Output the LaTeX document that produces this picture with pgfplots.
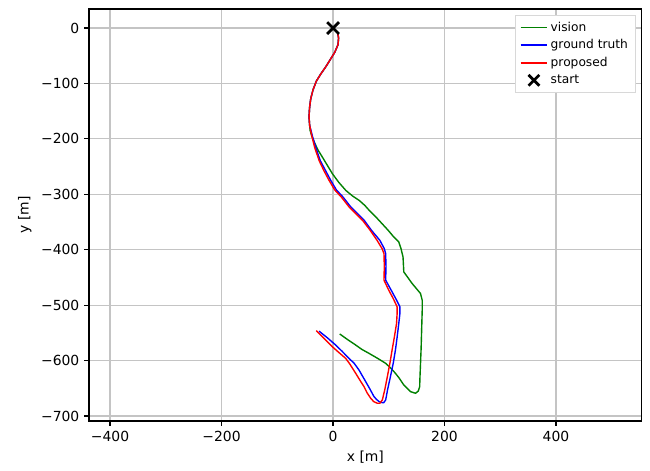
\documentclass[border=0pt]{standalone}
\usepackage{fontspec}
\setmainfont{DejaVu Sans}
\usepackage{pgfplots}
\pgfplotsset{compat=1.18}
\definecolor{gridgray}{HTML}{C4C4C4}
\definecolor{legendgray}{HTML}{D8D8D8}
\pgfplotsset{
 lineleg/.style={legend image code/.code={\draw[##1] (0pt,0pt) -- (19pt,0pt);}},
 startleg/.style={legend image code/.code={\draw[##1] plot[only marks,mark=x,mark size=5.5pt] coordinates {(9.5pt,0pt)};}},
}

\begin{document}
\begin{tikzpicture}
\path[use as bounding box] (-64.1pt,-35.3pt) rectangle (403.9pt,303.1pt);
\begin{axis}[scale only axis,width=398pt,height=296.6pt,at={(0,0)},anchor=south west,
 xmin=-437.7,xmax=554,ymin=-709,ymax=34.3,
 xtick={-400,-200,0,200,400},ytick={-700,-600,-500,-400,-300,-200,-100,0},
 xticklabels={−400,−200,0,200,400},
 yticklabels={−700,−600,−500,−400,−300,−200,−100,0},
 tick pos=left,tick align=outside,major tick length=3.5pt,
 every tick/.style={black,line width=0.8pt},
 axis line style={black,line width=0.8pt},
 grid=major,grid style={gridgray,line width=0.8pt},
 tick label style={font=\fontsize{10}{12}\selectfont},
 label style={font=\fontsize{10}{12}\selectfont},
 xlabel={x [m]},ylabel={y [m]},
 legend style={at={(0.988,0.985)},anchor=north east,draw=legendgray,
  fill=white,font=\fontsize{8.8}{10.5}\selectfont,
  row sep=0.6pt,inner xsep=3pt,inner ysep=2.5pt},
 legend cell align=left,
]
\addplot[color=green!50!black,line width=1pt,forget plot] coordinates {
(8,-7) (10,-18) (9,-30) (3,-44) (-5,-57) (-13,-70) (-22,-83) (-30,-96) (-36,-112)
(-40,-128) (-42,-143) (-43,-160) (-42,-175) (-41,-185) (-38,-195) (-34,-205) (-27,-220)
(-19,-233) (-10,-248) (-1,-263) (10,-278) (23,-293) (35,-303) (47,-311) (57,-320)
(65,-329) (77,-341) (88,-353) (99,-365) (109,-377) (118,-386) (122,-398) (125.6,-413)
(127,-440) (142,-461) (157,-479) (160,-491) (160,-510) (159,-545) (158,-580) (157,-605)
(156,-630) (155.5,-647) (153,-655) (148,-659) (139,-656) (127,-644) (119,-632) (112,-623)
(104,-614) (94.5,-605) (80,-596) (64.6,-587) (52,-580) (40.7,-572) (26,-562) (12,-552)
};
\addplot[color=blue,line width=1pt,forget plot] coordinates {
(8,-7) (10,-18) (9,-30) (3,-44) (-5,-57) (-13,-70) (-22,-83) (-30,-96) (-36,-112)
(-40,-128) (-42,-143) (-43,-160) (-42,-175) (-37,-195) (-31,-215) (-23,-239) (-13,-258)
(-4,-275) (6,-292) (18,-305) (32,-323) (44,-335) (56,-347) (69,-365) (84,-383) (92,-398)
(94.5,-407) (95,-430) (94.5,-455) (106,-476) (113,-489) (120,-503) (120,-515) (118,-533)
(115,-558) (112,-581) (108,-605) (103,-629) (98,-652) (94.5,-671) (91,-676) (88.5,-676)
(82.5,-674) (78,-670) (73.5,-665) (66,-651) (58.6,-638) (46.6,-617) (38,-605) (28.7,-596)
(16,-583) (4.8,-572) (-10,-559) (-25,-547)
};
\addplot[color=red,line width=1pt,forget plot] coordinates {
(8,-7) (10,-18) (9,-30) (3,-44) (-5,-57) (-13,-70) (-22,-83) (-30,-96) (-36,-112)
(-40,-128) (-42,-143) (-43,-160) (-42,-175) (-38,-195) (-33,-215) (-25,-239) (-16,-258)
(-7,-275) (3,-292) (15,-305) (29,-323) (41,-335) (53,-347) (66,-364) (79,-383) (88,-398)
(91.5,-407) (92,-430) (91.5,-455) (100,-473) (108,-488) (115,-503) (115,-515) (114,-533)
(110,-558) (106,-581) (102,-605) (97.5,-629) (93,-652) (88.5,-671) (84,-677) (79.5,-677)
(73,-674) (67.6,-668) (61,-658) (55.6,-647) (48,-635) (40.7,-623) (30,-606) (22.7,-596)
(10,-585) (-1.2,-575) (-15,-561) (-30,-546)
};
\addplot[only marks,black,mark=x,mark size=6pt,line width=2pt,forget plot] coordinates {(0,0)};
\addlegendimage{color=green!50!black,line width=1.2pt,lineleg}
\addlegendentry{vision}
\addlegendimage{color=blue,line width=1.2pt,lineleg}
\addlegendentry{ground truth}
\addlegendimage{color=red,line width=1.2pt,lineleg}
\addlegendentry{proposed}
\addlegendimage{color=black,line width=2pt,startleg}
\addlegendentry{start}
\end{axis}
\end{tikzpicture}
\end{document}
